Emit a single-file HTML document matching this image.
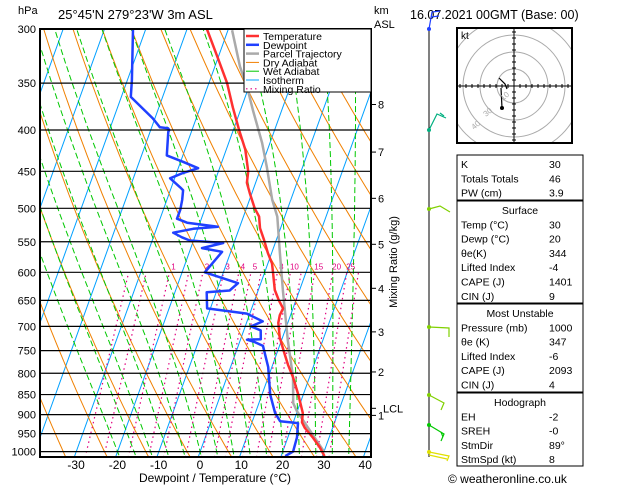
<!DOCTYPE html>
<html><head><meta charset="utf-8">
<style>
html,body{margin:0;padding:0;background:#fff;}
svg{display:block;font-family:"Liberation Sans",sans-serif;}
</style></head>
<body>
<svg id="chart" width="629" height="486" viewBox="0 0 629 486" xmlns="http://www.w3.org/2000/svg">
<defs><clipPath id="plotclip"><rect x="40" y="29" width="331" height="428"/></clipPath>
<clipPath id="hodoclip"><rect x="457" y="28" width="115" height="115"/></clipPath></defs>
<rect width="629" height="486" fill="#fff"/>
<text x="18" y="14" font-size="11">hPa</text>
<text x="58" y="19" font-size="13">25°45'N  279°23'W  3m  ASL</text>
<text x="374" y="14" font-size="11">km</text>
<text x="374" y="28" font-size="11">ASL</text>
<text x="410" y="19" font-size="12.5">16.07.2021  00GMT  (Base: 00)</text>
<g id="bg" clip-path="url(#plotclip)"></g>
<g id="iso"></g>
<g id="prof" clip-path="url(#plotclip)"></g>
<rect x="40" y="29" width="331" height="428" fill="none" stroke="#000" stroke-width="2"/>
<g id="axes"></g>
<g>
<rect x="244" y="29" width="127" height="63" fill="#fff" stroke="#000"/>
<g id="legend"></g>
</g>
<text transform="translate(397,262) rotate(-90)" text-anchor="middle" font-size="11">Mixing Ratio (g/kg)</text>
<text x="215" y="482" text-anchor="middle" font-size="12">Dewpoint / Temperature (°C)</text>
<g id="wind"></g>
<g id="hodo"></g>
<g id="tables" font-size="10.5"></g>
<text x="448" y="483" font-size="12">© weatheronline.co.uk</text>
</svg>
<script>
// ---- data ----
const tempP = [300,326,350,375,400,423,450,465,479,500,512,529,547,568,585,600,631,650,665,678,693,722,750,781,809,850,896,920,935,962,988,1013];
const tempT = [-35.2,-30,-25.6,-22.1,-18.6,-15.4,-12.8,-12.1,-10.5,-8,-6.2,-5,-3,-0.9,1,2,4,5.9,7.6,7.4,7.7,9.3,11.4,13.7,16,18.8,21.5,22.1,23.3,26.2,28.6,30.5];
const dewP = [300,347,364,387,397,398,400,402,430,438,446,452,459,471,475,488,502,515,521,527,530,536,543,548,552,560,566,600,619,632,635,665,675,690,700,708,726,727,732,740,786,850,896,917,922,960,1000,1013];
const dewT = [-53.1,-48.9,-47.7,-40.5,-38,-36,-35.5,-35.6,-33.9,-29.4,-25.2,-28.4,-31.1,-27.9,-26.9,-26.3,-25.9,-25.9,-23.1,-15.3,-21.1,-25.6,-23.1,-20.9,-12.6,-17.3,-12.1,-14.5,-5.5,-6.9,-12.3,-10.8,-0.7,3.8,1.4,4.1,4.9,1.6,3.7,6,9.1,12,14.8,16.7,21.2,22.2,22.5,21];
const parcelP = [1000,891,871,809,728,632,568,512,488,445,415,378,354,334,301];
const parcelT = [30,19.9,18.3,16,11.5,6,2,-1.8,-4.5,-8.6,-11.9,-17,-20.4,-23.9,-29];
const pressureTicks = [300,350,400,450,500,550,600,650,700,750,800,850,900,950,1000];
const tempTicks = [-30,-20,-10,0,10,20,30,40];
const kmTicks = [1,2,3,4,5,6,7,8];
const kmPress = [902,797,711,628,554,486,426,372];
const lclPress = 884;
const mixRatios = [1,2,3,4,5,8,10,15,20,25];
const mixExtra = [0.4,0.6,1.5,6,12,30];
const tableLabels = ["K","Totals Totals","PW (cm)"];
const tableValues = ["30","46","3.9"];
const surfLabels = ["Temp (°C)","Dewp (°C)","θe(K)","Lifted Index","CAPE (J)","CIN (J)"];
const surfValues = ["30","20","344","-4","1401","9"];
const muLabels = ["Pressure (mb)","θe (K)","Lifted Index","CAPE (J)","CIN (J)"];
const muValues = ["1000","347","-6","2093","4"];
const hodoLabels = ["EH","SREH","StmDir","StmSpd (kt)"];
const hodoValues = ["-2","-0","89°","8"];

// ---- axis functions ----
const NS="http://www.w3.org/2000/svg";
function yP(p){return 29+351*Math.log(p/300);}
function xT(T,p){return 200+4.13*T+0.36*(452-yP(p));}
function mk(tag,attrs,parent){const e=document.createElementNS(NS,tag);for(const k in attrs)e.setAttribute(k,attrs[k]);parent.appendChild(e);return e;}
function pl(pts){return pts.map(p=>p[0].toFixed(1)+","+p[1].toFixed(1)).join(" ");}
const bg=document.getElementById('bg'), prof=document.getElementById('prof'), axes=document.getElementById('axes');

// isotherms
for(let T=-120;T<=40;T+=10){
  const l=mk('line',{x1:xT(T,1060),y1:yP(1060),x2:xT(T,290),y2:yP(290),stroke:'#00a0ff','stroke-width':1},bg);
  
  
}
// dry adiabats
for(let th=240;th<=500;th+=10){
  const pts=[];for(let p=1060;p>=290;p-=10){pts.push([xT(th*Math.pow(p/1000,0.286)-273.15,p),yP(p)]);}
  const l=mk('polyline',{points:pl(pts),fill:'none',stroke:'#f08000','stroke-width':1},bg);
  
  
}
// moist adiabats
function es(T){return 6.112*Math.exp(17.67*T/(T+243.5));}
for(let tw=-20;tw<=36;tw+=4){
  let T=tw+273.15;const pts=[[xT(tw,1060),yP(1060)]];let p=1000;
  // go down to 1060 approx
  pts.length=0;
  let Tb=T; // integrate downward first
  let pp=1000;let Tt=T;
  const down=[];
  while(pp<1060){const rs=0.622*es(Tt-273.15)/(pp-es(Tt-273.15));const d=(287*Tt+2.5e6*rs)/(1004+2.5e6*2.5e6*rs*0.622/(287*Tt*Tt))/pp;Tt+=d*5;pp+=5;}
  pts.push([xT(Tt-273.15,pp),yP(pp)]);
  while(p>=290){pts.push([xT(T-273.15,p),yP(p)]);const rs=0.622*es(T-273.15)/(p-es(T-273.15));const d=(287*T+2.5e6*rs)/(1004+2.5e6*2.5e6*rs*0.622/(287*T*T))/p;T-=d*5;p-=5;}
  const l=mk('polyline',{points:pl(pts),fill:'none',stroke:'#00c800','stroke-width':1,'stroke-dasharray':'6,3'},bg);
  
  
}
// mixing ratio
function tdFromW(w,p){const e=w*p/(622+w);const a=Math.log(e/6.112);return 243.5*a/(17.67-a);}
mixRatios.concat(mixExtra).forEach(w=>{
  const l=mk('line',{x1:xT(tdFromW(w,1060),1060),y1:yP(1060),x2:xT(tdFromW(w,600),600),y2:yP(600),stroke:'#e0007f','stroke-width':1.2,'stroke-dasharray':'1.5,3.5'},bg);
  
  
});
mixRatios.forEach(w=>{
  const t=mk('text',{x:xT(tdFromW(w,600),600)+4,y:yP(600)-3,'font-size':8,fill:'#e0007f','text-anchor':'middle'},bg);
  t.textContent=w;
  
  
});
// isobars
pressureTicks.forEach(p=>{
  const l=mk('line',{x1:40,y1:yP(p),x2:371,y2:yP(p),stroke:'#000','stroke-width':1.2},axes);
  
  
  const t=mk('text',{x:36,y:yP(p)+4,'font-size':11,'text-anchor':'end'},axes);
  t.textContent=p;
  
  
});
tempTicks.forEach(T=>{
  const x=200+4.13*T;
  const t=mk('text',{x:x,y:469,'font-size':12,'text-anchor':'middle'},axes);
  t.textContent=T;
  
  
});
kmTicks.forEach((k,i)=>{
  const y=yP(kmPress[i]);
  mk('line',{x1:371,y1:y,x2:376,y2:y,stroke:'#000'},axes);
  const t=mk('text',{x:378,y:y+4,'font-size':11},axes);
  t.textContent=k;
  
  
});
{const y=yP(lclPress);mk('line',{x1:371,y1:y,x2:376,y2:y,stroke:'#000'},axes);
 const t=mk('text',{x:383,y:y+4,'font-size':11},axes);t.textContent='LCL';
 
 }
// profiles
function drawProf(P,T,color,w,name){
  const l=mk('polyline',{points:pl(P.map((p,i)=>[xT(T[i],p),yP(p)])),fill:'none',stroke:color,'stroke-width':w,'stroke-linejoin':'round'},prof);
  
  
}
drawProf(parcelP,parcelT,'#aaaaaa',2.5,'parcel-trajectory');
drawProf(tempP,tempT,'#ff3030',2.5,'temperature-line');
drawProf(dewP,dewT,'#2040ff',2.5,'dewpoint-line');
// legend
const leg=document.getElementById('legend');
const legItems=[["Temperature","#ff3030",2.5,""],["Dewpoint","#2040ff",2.5,""],["Parcel Trajectory","#aaaaaa",2.5,""],["Dry Adiabat","#f08000",1,""],["Wet Adiabat","#00c800",1,""],["Isotherm","#00a0ff",1,""],["Mixing Ratio","#e0007f",1.2,"1.5,3"]];
legItems.forEach((it,i)=>{
  const y=36+i*8.8;
  const l=mk('line',{x1:246,y1:y,x2:259,y2:y,stroke:it[1],'stroke-width':it[2]},leg);
  if(it[3])l.setAttribute('stroke-dasharray',it[3]);
  
  
  const t=mk('text',{x:263,y:y+4,'font-size':10.5},leg);
  t.textContent=it[0];
  
  
});
// wind barbs
const wind=document.getElementById('wind');
mk('line',{x1:429,y1:28,x2:429,y2:457,stroke:'#000','stroke-width':1},wind);
const barbs=[[29,'#2040ff',[[429,29],[432,12],[440,11]],[[431,17],[439,16]]],
 [130,'#00b080',[[429,130],[437,114],[446,118]],[[440,113],[444,116]]],
 [209,'#80d000',[[429,209],[440,206],[450,212]],[]],
 [327,'#80d000',[[429,327],[449,328],[449,337]],[]],
 [395,'#80d000',[[429,395],[444,403],[441,410]],[]],
 [425,'#00c800',[[429,425],[444,434],[441,441]],[[441,432],[443,437]]],
 [452,'#e0e000',[[429,452],[449,456],[447,461]],[[429,455],[447,459]]]];
barbs.forEach(b=>{
  const g=mk('g',{},wind);
  
  
  mk('polyline',{points:pl(b[2]),fill:'none',stroke:b[1],'stroke-width':1.2},g);
  if(b[3].length)mk('polyline',{points:pl(b[3]),fill:'none',stroke:b[1],'stroke-width':1.2},g);
  mk('circle',{cx:429,cy:b[0],r:2,fill:b[1]},g);
});
// hodograph
const hodo=document.getElementById('hodo');
const hg=mk('g',{'clip-path':'url(#hodoclip)'},hodo);
[17,34,51,68].forEach(r=>mk('circle',{cx:514,cy:86,r:r,fill:'none',stroke:'#aaa'},hg));
mk('line',{x1:457,y1:86,x2:572,y2:86,stroke:'#000'},hodo);
mk('line',{x1:514,y1:28,x2:514,y2:143,stroke:'#000'},hodo);
for(let i=-9;i<=9;i++){if(!i)continue;const d=i*6;mk('line',{x1:514+d,y1:84,x2:514+d,y2:88,stroke:'#000'},hodo);mk('line',{x1:512,y1:86+d,x2:516,y2:86+d,stroke:'#000'},hodo);}
const hf=mk('rect',{x:457,y:28,width:115,height:115,fill:'none',stroke:'#000','stroke-width':2},hodo);


mk('polyline',{points:'499,78 505,84 507,89',fill:'none',stroke:'#000','stroke-width':1.2},hodo);
mk('polyline',{points:'501,88 502,108',fill:'none',stroke:'#000','stroke-width':1.2},hodo);
mk('circle',{cx:502,cy:108,r:2,fill:'#000'},hodo);
{const t=mk('text',{x:461,y:39,'font-size':10},hodo);t.textContent='kt';
 
 }
[['10',503,101],['30',486,117],['40',474,130]].forEach(a=>{const t=mk('text',{x:a[1],y:a[2],'font-size':8,fill:'#aaa',transform:`rotate(-40 ${a[1]} ${a[2]})`},hodo);t.textContent=a[0];
 
 });
// tables
const tb=document.getElementById('tables');
function box(y1,y2,title,labels,values,name){
  const g=mk('g',{},tb);
  
  
  mk('rect',{x:457,y:y1,width:126,height:y2-y1,fill:'none',stroke:'#000'},g);
  let y=y1+13;
  if(title){const t=mk('text',{x:520,y:y,'text-anchor':'middle'},g);t.textContent=title;y+=14.3;}
  labels.forEach((l,i)=>{const a=mk('text',{x:461,y:y},g);a.textContent=l;const b=mk('text',{x:549,y:y},g);b.textContent=values[i];y+=14.3;});
}
box(155,200,null,tableLabels,tableValues,'indices-table');
box(201,303,'Surface',surfLabels,surfValues,'surface-table');
box(304,392,'Most Unstable',muLabels,muValues,'most-unstable-table');
box(393,466,'Hodograph',hodoLabels,hodoValues,'hodograph-table');
</script>
</body></html>
